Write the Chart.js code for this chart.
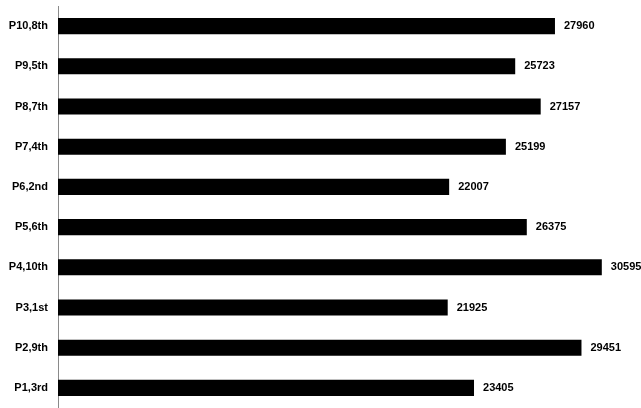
<!DOCTYPE html>
<html>
<head>
<meta charset="utf-8">
<script src="https://cdn.jsdelivr.net/npm/chart.js@4"></script>
<style>
  html, body { margin: 0; padding: 0; background: #fff; }
  #wrap { width: 641px; height: 408px; overflow: hidden; }
</style>
</head>
<body>
<div id="wrap"><canvas id="barChart" width="641" height="408"></canvas></div>
<script>
// categories, top to bottom as in the picture
var categories = ['P10,8th', 'P9,5th', 'P8,7th', 'P7,4th', 'P6,2nd', 'P5,6th', 'P4,10th', 'P3,1st', 'P2,9th', 'P1,3rd'];
var values = [27960, 25723, 27157, 25199, 22007, 26375, 30595, 21925, 29451, 23405];

// value labels to the right of each bar
var valueLabels = {
    id: 'valueLabels',
    afterDatasetsDraw: function(chart) {
        var ctx = chart.ctx;
        var meta = chart.getDatasetMeta(0);
        ctx.save();
        ctx.font = 'bold 11px "Liberation Sans", Arial, sans-serif';
        ctx.fillStyle = '#000';
        ctx.textBaseline = 'middle';
        ctx.textAlign = 'left';
        meta.data.forEach(function(bar, i) {
            ctx.fillText(values[i], bar.x + 9, bar.y);
        });
        ctx.restore();
    }
};

var ctx = document.getElementById('barChart').getContext('2d');
var myChart = new Chart(ctx, {
    type: 'bar',
    data: {
        labels: categories,
        datasets: [{
            data: values,
            backgroundColor: '#000',
            borderWidth: 0,
            barPercentage: 0.8,
            categoryPercentage: 0.5
        }]
    },
    options: {
        indexAxis: 'y',
        responsive: false,
        animation: false,
        layout: { padding: { top: 6, bottom: -1, left: 0, right: 0 } },
        plugins: {
            legend: { display: false },
            tooltip: { enabled: false }
        },
        scales: {
            x: {
                display: false,
                min: 0,
                max: 32800
            },
            y: {
                grid: { display: false, drawTicks: false },
                border: { display: true, color: '#8a8a8a', width: 1 },
                ticks: {
                    color: '#000',
                    padding: 10,
                    font: { family: '"Liberation Sans", Arial, sans-serif', size: 11, weight: 'bold' }
                },
                afterFit: function(scale) {
                    scale.width = 58;
                    // drop the label padding above and below the axis
                    scale.paddingTop = 0;
                    scale.paddingBottom = 0;
                }
            }
        }
    },
    plugins: [valueLabels]
});
</script>
</body>
</html>
